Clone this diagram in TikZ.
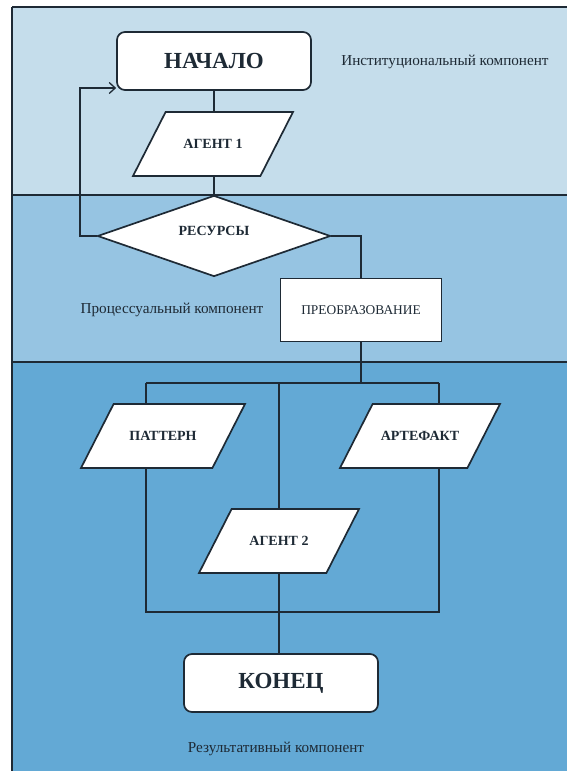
\documentclass[tikz,border=0pt]{standalone}
\usepackage{fontspec}
\setmainfont{Liberation Serif}
\usetikzlibrary{shapes.geometric,arrows.meta}
\definecolor{bandtop}{HTML}{C5DDEB}
\definecolor{bandmid}{HTML}{96C4E2}
\definecolor{bandlow}{HTML}{63A9D5}
\definecolor{ink}{HTML}{1E2A35}

\begin{document}
\begin{tikzpicture}
[x=1pt,y=-1pt,color=ink,
 shapebox/.style={draw,fill=white,line width=1.7pt,inner sep=0pt},
 termbox/.style={shapebox,rounded corners=8pt,minimum width=194pt,minimum height=58pt,font=\fontsize{23}{23}\selectfont\bfseries},
 iobox/.style={shapebox,trapezium,trapezium left angle=63,trapezium right angle=117,trapezium stretches body,
   text height=9.5pt,text depth=0pt,inner ysep=27.25pt,inner xsep=3pt,minimum height=64pt,font=\fontsize{14}{14}\selectfont\bfseries},
 procbox/.style={shapebox,minimum width=161pt,minimum height=63pt,font=\fontsize{13.4}{13.4}\selectfont},
 decbox/.style={shapebox,diamond,aspect=2.88,text depth=10pt,minimum width=233pt,minimum height=81pt,font=\fontsize{14}{14}\selectfont\bfseries},
 zonelabel/.style={font=\fontsize{15.2}{15.2}\selectfont},
 link/.style={line width=1.3pt}]
  \useasboundingbox (0,0) rectangle (567,771);

  % three zones
  \foreach \ztop/\zbot/\zcol in {7/195/bandtop,195/362/bandmid,362/771/bandlow}
  {
    \fill[\zcol] (12,\ztop) rectangle (567,\zbot);
  }
  \foreach \zy in {7,195,362}
    \draw[line width=1.8pt] (12,\zy) -- (567,\zy);
  \draw[line width=1.8pt] (12,7) -- (12,771);

  \node[termbox] (nachalo) at (214,61) {НАЧАЛО};
  \node[iobox,minimum width=160pt] (agent1) at (213,144) {АГЕНТ 1};
  \node[decbox] (resursy) at (214,236) {РЕСУРСЫ};
  \node[procbox] (preobr) at (361,310) {ПРЕОБРАЗОВАНИЕ};
  \node[iobox,minimum width=164pt] (pattern) at (163,436) {ПАТТЕРН};
  \node[iobox,minimum width=160pt] (artefakt) at (420,436) {АРТЕФАКТ};
  \node[iobox,minimum width=160pt] (agent2) at (279,541) {АГЕНТ 2};
  \node[termbox] (konets) at (281,683) {КОНЕЦ};

  \node[zonelabel] (inst) at (445,62) {Институциональный компонент};
  \node[zonelabel] (proc) at (172,310) {Процессуальный компонент};
  \node[zonelabel] (res) at (276,749) {Результативный компонент};

  \coordinate (busL) at (146,383);
  \coordinate (busR) at (439,383);
  \coordinate (joinL) at (146,612);
  \coordinate (joinR) at (439,612);
  \coordinate (loop) at (80,88);

  \draw[link] (nachalo.south) -- (nachalo.south |- agent1.north);
  \draw[link] (agent1.south -| resursy.north) -- (resursy.north);
  \draw[link,-{Straight Barb[length=6pt,width=11pt]}] (resursy.west) -| (loop) -- (loop -| nachalo.west);
  \draw[link] (resursy.east) -| (preobr.north);
  \draw[link] (preobr.south) -- (preobr.south |- busR);
  \draw[link] (busL) -- (busR);
  \draw[link] (busL) -- (busL |- pattern.north);
  \draw[link] (busR) -- (busR |- artefakt.north);
  \draw[link] (busL -| agent2.north) -- (agent2.north);
  \draw[link] (busL |- pattern.south) -- (joinL) -- (joinR) -- (busR |- artefakt.south);
  \draw[link] (agent2.south) -- (agent2.south |- konets.north);
\end{tikzpicture}
\end{document}
